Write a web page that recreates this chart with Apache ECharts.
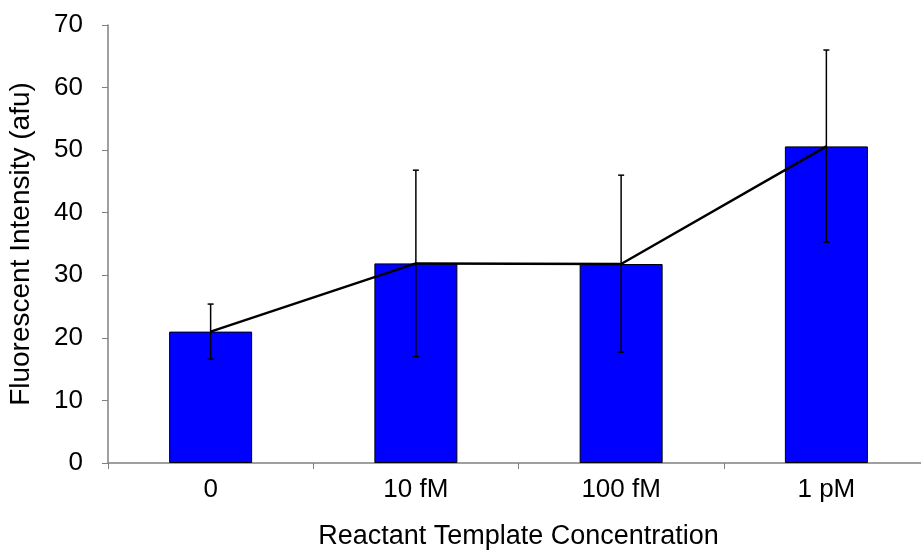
<!DOCTYPE html>
<html>
<head>
<meta charset="utf-8">
<script src="https://cdn.jsdelivr.net/npm/echarts@6/dist/echarts.min.js"></script>
<style>
  html, body { margin: 0; padding: 0; background: #fff; }
  #chart { width: 921px; height: 550px; }
</style>
</head>
<body>
<div id="chart"></div>
<script>
// 数据
const categories = ['0', '10 fM', '100 fM', '1 pM'];
const meanValues = [21.0, 31.9, 31.8, 50.6];
const errLow = [16.6, 17.0, 17.7, 35.3];
const errHigh = [25.4, 46.8, 46.0, 66.0];

const chart = echarts.init(document.getElementById('chart'));

const errData = categories.map((c, i) => [i, errLow[i], errHigh[i]]);

// 误差线
function renderError(params, api) {
  const x = api.value(0);
  const lo = api.coord([x, api.value(1)]);
  const hi = api.coord([x, api.value(2)]);
  const cap = 3;
  const style = { stroke: '#000', lineWidth: 1.5 };
  return {
    type: 'group',
    children: [
      { type: 'line', shape: { x1: lo[0], y1: lo[1], x2: hi[0], y2: hi[1] }, style: style },
      { type: 'line', shape: { x1: hi[0] - cap, y1: hi[1], x2: hi[0] + cap, y2: hi[1] }, style: style },
      { type: 'line', shape: { x1: lo[0] - cap, y1: lo[1], x2: lo[0] + cap, y2: lo[1] }, style: style }
    ]
  };
}

const font = 'Liberation Sans, Arial, sans-serif';

chart.setOption({
  animation: false,
  backgroundColor: '#fff',
  // 右侧类目区超出画布，与原图一致
  grid: { left: 108, top: 25, width: 821, height: 438, outerBoundsMode: 'none', containLabel: false },
  xAxis: {
    type: 'category',
    data: categories,
    name: 'Reactant Template Concentration',
    nameLocation: 'middle',
    nameGap: 60,
    nameTextStyle: { color: '#000', fontSize: 27, fontFamily: font },
    axisLine: { lineStyle: { color: '#808080', width: 1.5 } },
    axisTick: { show: true, length: 6, lineStyle: { color: '#808080' } },
    axisLabel: { color: '#000', fontSize: 26, fontFamily: font, margin: 14 },
    splitLine: { show: false }
  },
  yAxis: {
    type: 'value',
    min: 0,
    max: 70,
    interval: 10,
    name: 'Fluorescent Intensity (afu)',
    nameLocation: 'middle',
    nameGap: 73,
    nameTextStyle: { color: '#000', fontSize: 28, fontFamily: font },
    axisLine: { show: true, lineStyle: { color: '#808080', width: 1.5 } },
    axisTick: { show: true, length: 6, lineStyle: { color: '#808080' } },
    axisLabel: { color: '#000', fontSize: 26, fontFamily: font, margin: 25 },
    splitLine: { show: false }
  },
  series: [
    {
      type: 'bar',
      data: meanValues,
      barWidth: 83,
      itemStyle: { color: '#0000ff', borderColor: '#000', borderWidth: 1 }
    },
    {
      type: 'line',
      data: meanValues,
      symbol: 'none',
      lineStyle: { color: '#000', width: 2.5 },
      z: 3
    },
    {
      type: 'custom',
      data: errData,
      renderItem: renderError,
      encode: { x: 0, y: [1, 2] },
      z: 4
    }
  ]
});
</script>
</body>
</html>
